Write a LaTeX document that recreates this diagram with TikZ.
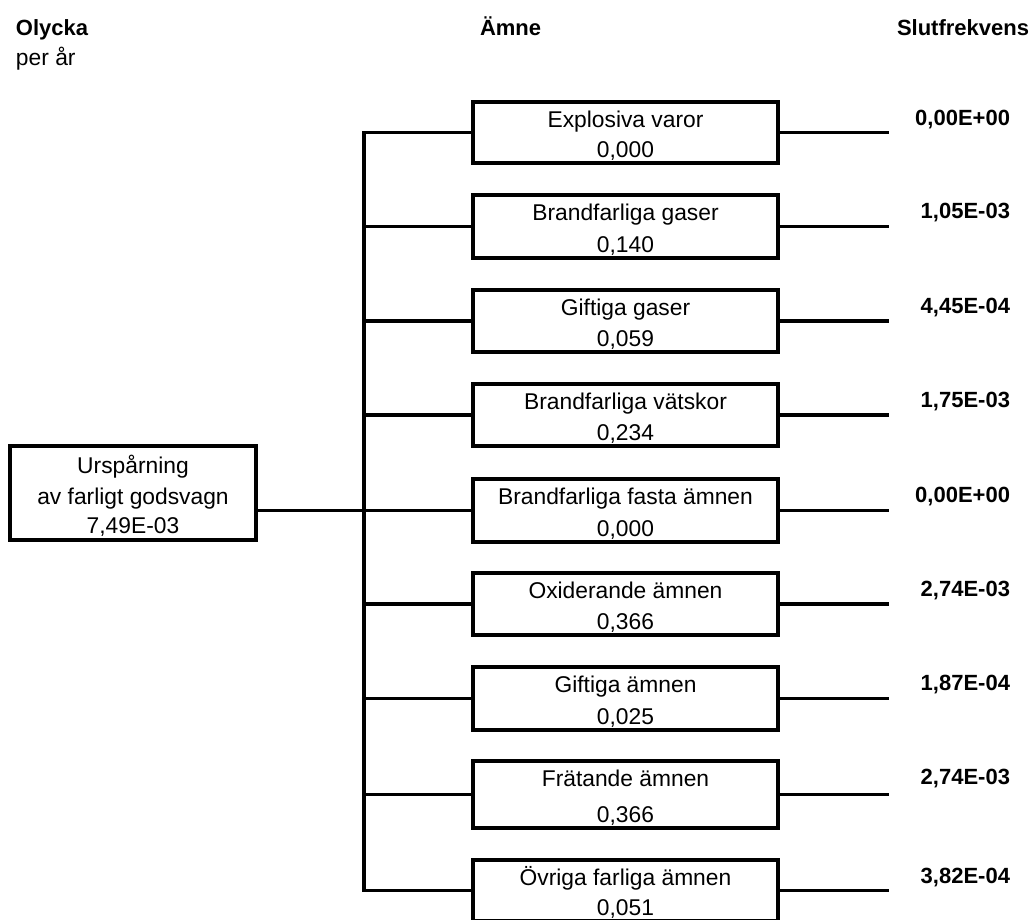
\documentclass[tikz,border=0pt]{standalone}
\usepackage{fontspec}
\setmainfont{Liberation Sans}
\begin{document}
\begin{tikzpicture}[x=1pt,y=-1pt,
  every node/.style={font=\fontsize{22.8}{27}\selectfont, inner sep=0pt, outer sep=0pt},
  catbox/.style={draw, line width=3.3pt, minimum width=305pt, anchor=north west},
  srcbox/.style={draw, line width=3.3pt, minimum width=246pt, minimum height=94pt, anchor=north west},
  wire/.style={line width=3.3pt},
  lbl/.style={anchor=base},
  res/.style={anchor=base east, font=\fontsize{22}{26}\selectfont\bfseries},
  head/.style={anchor=base west, font=\fontsize{22}{26}\selectfont\bfseries},
  sub/.style={anchor=base west},
]
\useasboundingbox (0,0) rectangle (1032,919);
\clip (0,0) rectangle (1032,919);

% column headings
\node[head] (hOlycka) at (16,35) {Olycka};
\node[sub]  (hPerAr)  at (16,65) {per år};
\node[head] (hAmne)   at (480,35) {Ämne};
\node[head] (hSlut)   at (897,35) {Slutfrekvens};

% initiating event
\node[srcbox] (src) at (10,446) {};
\node[lbl] (srcA) at ([yshift=-27pt]src.north) {Urspårning};
\node[lbl] (srcB) at ([yshift=-58pt]src.north) {av farligt godsvagn};
\node[lbl] (srcC) at ([yshift=-87pt]src.north) {7,49E-03};

% substance classes
\node[catbox, minimum height=61pt] (b1) at (473,102) {};
\node[catbox, minimum height=63pt] (b2) at (473,195) {};
\node[catbox, minimum height=62pt] (b3) at (473,290) {};
\node[catbox, minimum height=62pt] (b4) at (473,384) {};
\node[catbox, minimum height=63pt] (b5) at (473,479) {};
\node[catbox, minimum height=62pt] (b6) at (473,573) {};
\node[catbox, minimum height=63pt] (b7) at (473,667) {};
\node[catbox, minimum height=67pt] (b8) at (473,761) {};
\node[catbox, minimum height=61pt] (b9) at (473,860) {};

\foreach \i/\name/\share in {1/Explosiva varor/{0,000},
                            2/Brandfarliga gaser/{0,140},
                            3/Giftiga gaser/{0,059},
                            4/Brandfarliga vätskor/{0,234},
                            5/Brandfarliga fasta ämnen/{0,000},
                            6/Oxiderande ämnen/{0,366},
                            7/Giftiga ämnen/{0,025},
                            8/Frätande ämnen/{0,366},
                            9/Övriga farliga ämnen/{0,051}}{
  \node[lbl] (n\i) at ([yshift=-25pt]b\i.north) {\name};
  \node[lbl] (f\i) at ([yshift=6pt]b\i.south) {\share};
}

% final frequencies
\coordinate (rx) at (1010,0);
\foreach \i/\val in {1/{0,00E+00}, 2/{1,05E-03}, 3/{4,45E-04}, 4/{1,75E-03}, 5/{0,00E+00},
                     6/{2,74E-03}, 7/{1,87E-04}, 8/{2,74E-03}, 9/{3,82E-04}}{
  \node[res] (r\i) at ([yshift=-23pt]rx |- b\i.north) {\val};
}

% connectors
\coordinate (trunk) at (364,0);
\coordinate (rend) at (889,0);
\draw[wire] (b1.west) -- (trunk |- b1.west) -- (trunk |- b9.west) -- (b9.west);
\foreach \i in {2,...,8}{
  \draw[wire] (trunk |- b\i.west) -- (b\i.west);
}
\draw[wire] (src.east |- b5.west) -- (b5.west);
\foreach \i in {1,...,9}{
  \draw[wire] (b\i.east) -- (rend |- b\i.east);
}
\end{tikzpicture}
\end{document}
